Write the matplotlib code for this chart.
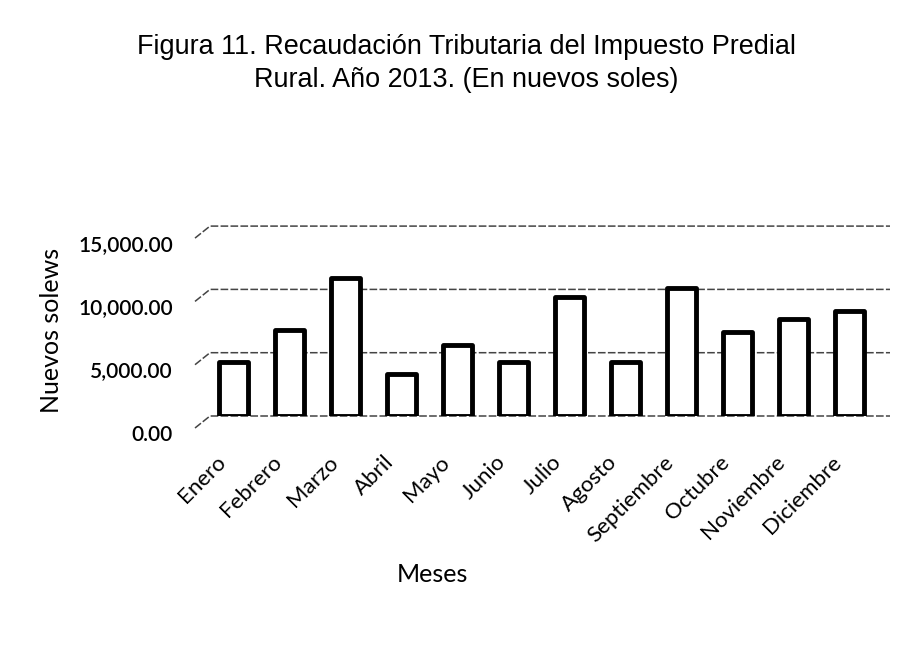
import matplotlib
matplotlib.use("Agg")
import matplotlib.pyplot as plt
import matplotlib.transforms as mtrans
from matplotlib import font_manager
from matplotlib.ticker import FuncFormatter

meses = ["Enero", "Febrero", "Marzo", "Abril", "Mayo", "Junio", "Julio",
         "Agosto", "Septiembre", "Octubre", "Noviembre", "Diciembre"]
recaudacion = [4300, 6800, 10900, 3300, 5600, 4250, 9400,
               4300, 10100, 6650, 7650, 8300]
yticks = [0, 5000, 10000, 15000]
titulo1 = "Figura 11. Recaudación Tributaria del Impuesto Predial"
titulo2 = "Rural. Año 2013. (En nuevos soles)"

names = {f.name for f in font_manager.fontManager.ttflist}
title_font = "Liberation Sans Narrow" if "Liberation Sans Narrow" in names else "Liberation Sans"
lab_font = "Lato"

W, H = 912, 651
fig = plt.figure(figsize=(W / 100, H / 100), dpi=100)
# axes: y=0 at 416 px, scale 63.3 px per 5000
s = 63.3 / 5000
ytop = 15300
ax = fig.add_axes([195 / W, 1 - 416 / H, 695 / W, ytop * s / H])
ax.set_xlim(-0.69, 11.73)
ax.set_ylim(0, ytop)
for sp in ax.spines.values():
    sp.set_visible(False)

x = list(range(len(meses)))
ax.bar(x, recaudacion, width=0.52, color="white", edgecolor="black",
       linewidth=3.5, joinstyle="round", zorder=3)

# back-wall gridlines with a short diagonal stub at the left (3D look)
dx = 15 / 56.0
dy = 12 / s
for v in yticks:
    ax.plot([-0.69, -0.69 + dx, 11.73], [v - dy, v, v], color="#444444",
            linestyle=(0, (5, 1.5)), linewidth=1.1, zorder=1, clip_on=False)

ax.set_yticks(yticks)
ax.yaxis.set_major_formatter(FuncFormatter(lambda v, p: f"{v:,.2f}"))
ax.tick_params(axis="y", length=0, pad=16)
ax.set_xticks(x)
ax.set_xticklabels(meses, rotation=45, ha="right", rotation_mode="anchor",
                   family=lab_font, fontsize=16)
ax.tick_params(axis="x", length=0, pad=26)
off_y = mtrans.ScaledTranslation(0, -12 / 72, fig.dpi_scale_trans)
for lab in ax.get_yticklabels():
    lab.set_family(lab_font)
    lab.set_fontsize(15)
    lab.set_fontweight("semibold")
    lab.set_transform(lab.get_transform() + off_y)
off_x = mtrans.ScaledTranslation(-13 / 72, 0, fig.dpi_scale_trans)
for lab in ax.get_xticklabels():
    lab.set_transform(lab.get_transform() + off_x)

fig.text(52 / W, 1 - 330 / H, "Nuevos solews", rotation=90, ha="center",
         va="center", family=lab_font, fontsize=18)
fig.text(432 / W, 1 - 575 / H, "Meses", ha="center", va="center",
         family=lab_font, fontsize=18)

t1 = fig.text(466 / W, 1 - 54 / H, titulo1, ha="center", va="baseline",
              family=title_font, fontsize=18)
t2 = fig.text(466 / W, 1 - 87 / H, titulo2, ha="center", va="baseline",
              family=title_font, fontsize=18)
fig.canvas.draw()
w1 = t1.get_window_extent().width
fs = 18 * 657 / w1
t1.set_fontsize(fs)
t2.set_fontsize(fs)

fig.savefig("out.png", dpi=100)
